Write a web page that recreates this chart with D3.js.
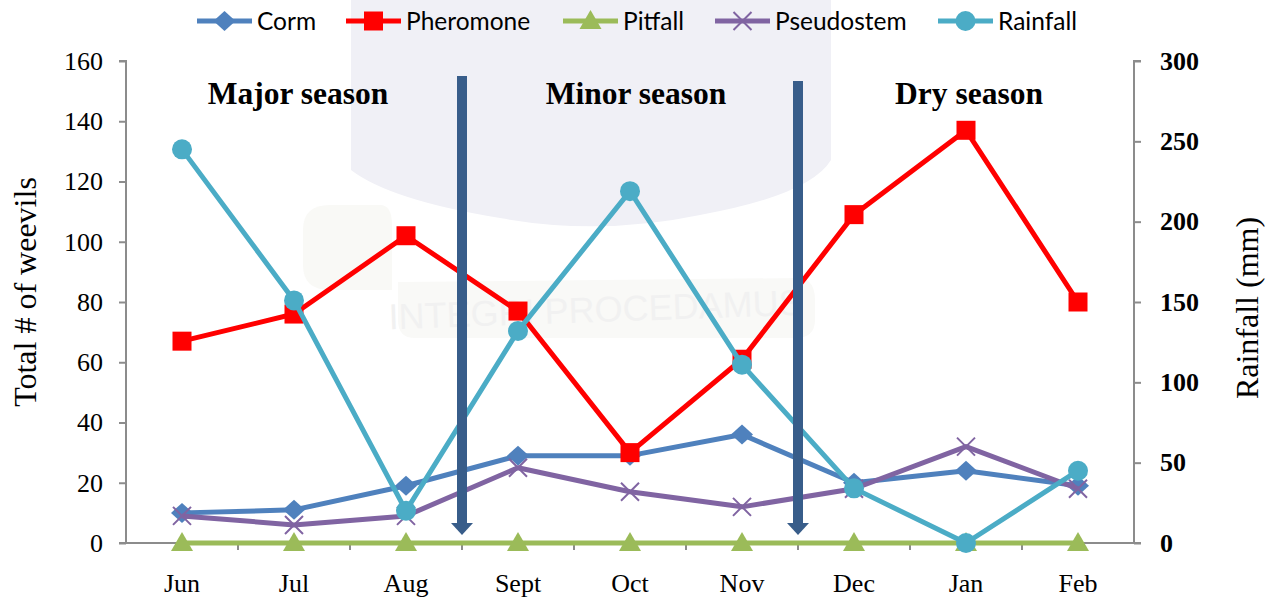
<!DOCTYPE html>
<html>
<head>
<meta charset="utf-8">
<script src="https://cdn.jsdelivr.net/npm/d3@7"></script>
<style>
  body { margin: 0; background: #fff; }
  svg { display: block; }
</style>
</head>
<body>
<svg id="chart" width="1276" height="599"></svg>
<script>
// data
const months = ["Jun", "Jul", "Aug", "Sept", "Oct", "Nov", "Dec", "Jan", "Feb"];
const corm = [10, 11, 19, 29, 29, 36, 20, 24, 19];
const pheromone = [67, 76, 102, 77, 30, 61, 109, 137, 80];
const pitfall = [0, 0, 0, 0, 0, 0, 0, 0, 0];
const pseudostem = [9, 6, 9, 25, 17, 12, 18, 32, 18];
const rainfall = [245, 151, 20, 132, 219, 111, 34, 0, 45];
const leftTicks = [0, 20, 40, 60, 80, 100, 120, 140, 160];
const rightTicks = [0, 50, 100, 150, 200, 250, 300];
const seasons = [
  { name: "Major season", from: 0, to: 3 },
  { name: "Minor season", from: 3, to: 6 },
  { name: "Dry season", from: 6, to: 9 }
];
const dividers = ["Sept", "Dec"]; // arrows sit at left edge of these months

const svg = d3.select("#chart");
const plotLeft = 126, plotRight = 1134, plotTop = 61, plotBottom = 543;
const serif = "Liberation Serif, Times New Roman, serif";

const x = d3.scaleBand().domain(months).range([plotLeft, plotRight]);
const y = d3.scaleLinear().domain([0, 160]).range([plotBottom, plotTop]);
const y2 = d3.scaleLinear().domain([0, 300]).range([plotBottom, plotTop]);
const cx = m => x(m) + x.bandwidth() / 2;

// faint watermark behind the plot
const wm = svg.append("g");
wm.append("path")
  .attr("d", "M351,0 L831,0 L831,160 Q810,195 700,215 Q600,236 500,218 Q390,200 351,170 Z")
  .style("fill", "#f0f0f6");
wm.append("path")
  .attr("d", "M303,230 Q303,205 330,205 L380,205 Q392,205 392,225 L392,290 L330,290 Q303,290 303,265 Z")
  .style("fill", "#f9f9f6");
wm.append("path")
  .attr("d", "M398,282 L800,278 Q815,280 815,300 L815,320 Q815,338 795,338 L415,338 Q398,338 398,320 Z")
  .style("fill", "#f9f9f7");
wm.append("text")
  .attr("x", 596).attr("y", 322)
  .attr("text-anchor", "middle")
  .attr("transform", "rotate(-2 596 322)")
  .style("font-family", "Liberation Sans Narrow, Liberation Sans, sans-serif")
  .style("font-size", "36px")
  .style("fill", "#f1f1f1")
  .text("INTEGRI PROCEDAMUS");

// axes
const axisColor = "#8c8c8c";
const leftAxis = svg.append("g")
  .attr("transform", `translate(${plotLeft},0)`)
  .call(d3.axisLeft(y).tickValues(leftTicks).tickSize(7).tickPadding(16));
const rightAxis = svg.append("g")
  .attr("transform", `translate(${plotRight},0)`)
  .call(d3.axisRight(y2).tickValues(rightTicks).tickSize(7).tickPadding(19));
const xAxis = svg.append("g")
  .attr("transform", `translate(0,${plotBottom})`)
  .call(d3.axisBottom(x).tickSize(0));

[leftAxis, rightAxis, xAxis].forEach(a => {
  a.selectAll(".domain").style("stroke", axisColor).style("stroke-width", 2);
  a.selectAll(".tick line").style("stroke", axisColor).style("stroke-width", 2);
  a.selectAll("text")
    .style("font-family", serif)
    .style("font-size", "26px")
    .style("fill", "#000");
});
leftAxis.select(".domain").attr("d", `M-7,${plotTop}H0V${plotBottom}H-7`);
rightAxis.select(".domain").attr("d", `M7,${plotTop}H0V${plotBottom}H7`);
rightAxis.selectAll("text").style("font-weight", "bold");
xAxis.selectAll("text").attr("y", 49).attr("dy", 0);
xAxis.select(".domain").attr("d", `M${plotLeft},0H${plotRight}`);

// tick marks on category boundaries
xAxis.selectAll(".bound")
  .data(months.slice(1))
  .join("line")
  .attr("x1", m => x(m)).attr("x2", m => x(m))
  .attr("y1", 0).attr("y2", 7)
  .style("stroke", axisColor).style("stroke-width", 2);

// axis titles
svg.append("text")
  .attr("transform", `translate(36,292) rotate(-90)`)
  .attr("text-anchor", "middle")
  .style("font-family", serif)
  .style("font-size", "32px")
  .text("Total # of weevils");
svg.append("text")
  .attr("transform", `translate(1258,308) rotate(-90)`)
  .attr("text-anchor", "middle")
  .style("font-family", serif)
  .style("font-size", "32px")
  .text("Rainfall (mm)");

// series
const series = [
  { name: "Corm", values: corm, color: "#4f81bd", marker: "diamond", scale: y },
  { name: "Pheromone", values: pheromone, color: "#ff0000", marker: "square", scale: y },
  { name: "Pitfall", values: pitfall, color: "#9bbb59", marker: "triangle", scale: y },
  { name: "Pseudostem", values: pseudostem, color: "#8064a2", marker: "cross", scale: y },
  { name: "Rainfall", values: rainfall, color: "#4bacc6", marker: "circle", scale: y2 }
];

function drawMarker(g, type, color) {
  if (type === "diamond") {
    g.append("path").attr("d", "M0,-10L11,0L0,10L-11,0Z").style("fill", color);
  } else if (type === "square") {
    g.append("rect").attr("x", -9.5).attr("y", -9.5).attr("width", 19).attr("height", 19).style("fill", color);
  } else if (type === "triangle") {
    g.append("path").attr("d", "M0,-11L11,8L-11,8Z").style("fill", color);
  } else if (type === "cross") {
    g.append("path").attr("d", "M-9,-9L9,9M-9,9L9,-9")
      .style("stroke", color).style("stroke-width", 2).style("fill", "none");
  } else {
    g.append("circle").attr("r", 10).style("fill", color);
  }
}

series.forEach(s => {
  const line = d3.line()
    .x((d, i) => cx(months[i]))
    .y(d => s.scale(d));
  svg.append("path")
    .datum(s.values)
    .attr("d", line)
    .style("fill", "none")
    .style("stroke", s.color)
    .style("stroke-width", 5)
    .style("stroke-linejoin", "round");
  s.values.forEach((v, i) => {
    const g = svg.append("g").attr("transform", `translate(${cx(months[i])},${s.scale(v)})`);
    drawMarker(g, s.marker, s.color);
  });
});

// season dividers (arrows)
const arrowColor = "#385d8a";
const arrowTops = [76, 81];
dividers.forEach((m, i) => {
  const ax = x(m);
  svg.append("rect")
    .attr("x", ax - 5).attr("y", arrowTops[i])
    .attr("width", 10).attr("height", 524 - arrowTops[i])
    .style("fill", arrowColor);
  svg.append("path")
    .attr("d", `M${ax - 11},523L${ax + 11},523L${ax},535Z`)
    .style("fill", arrowColor);
});

// season labels
const seasonShift = [4, 6, 3];
seasons.forEach((s, i) => {
  const mid = (x(months[s.from]) + (s.to < months.length ? x(months[s.to]) : plotRight)) / 2;
  svg.append("text")
    .attr("x", mid + seasonShift[i])
    .attr("y", 104)
    .attr("text-anchor", "middle")
    .style("font-family", serif)
    .style("font-weight", "bold")
    .style("font-size", "31.5px")
    .text(s.name);
});

// legend
const legendX = [197, 346, 563, 715, 938];
const legend = svg.append("g");
series.forEach((s, i) => {
  const g = legend.append("g").attr("transform", `translate(${legendX[i]},21)`);
  g.append("line").attr("x1", 0).attr("x2", 55)
    .style("stroke", s.color).style("stroke-width", 5);
  const mg = g.append("g").attr("transform", "translate(27.5,0)");
  drawMarker(mg, s.marker, s.color);
  g.append("text")
    .attr("x", 60).attr("y", 0).attr("dy", "0.36em")
    .style("font-family", "Lato, Open Sans, sans-serif")
    .style("font-size", "24.5px")
    .text(s.name);
});
</script>
</body>
</html>
